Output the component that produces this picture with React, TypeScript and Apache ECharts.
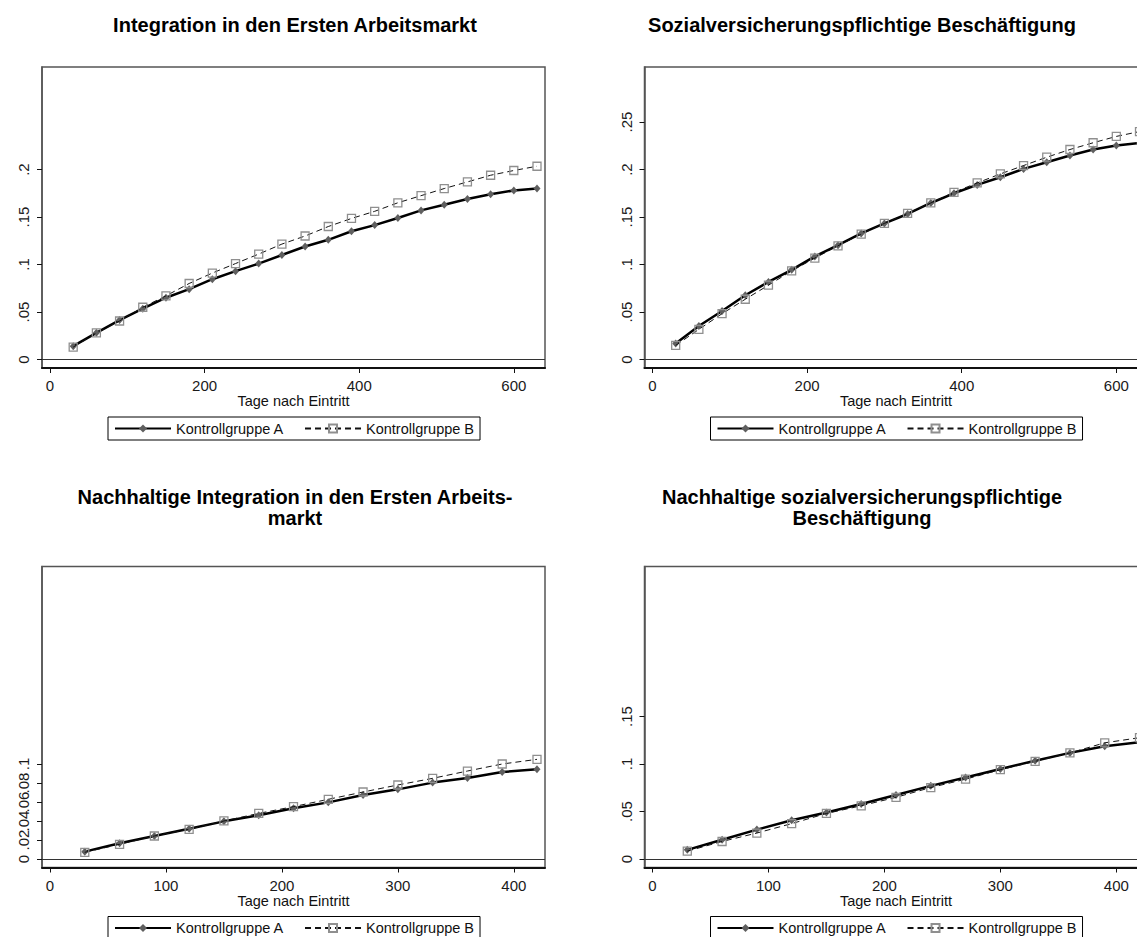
import React, { useEffect, useRef } from "react";
import * as echarts from "echarts";

// ---------- data ----------
const daysLong = [30, 60, 90, 120, 150, 180, 210, 240, 270, 300, 330, 360, 390, 420, 450, 480, 510, 540, 570, 600, 630];
const daysShort = [30, 60, 90, 120, 150, 180, 210, 240, 270, 300, 330, 360, 390, 420];

// Panel 1: Integration in den Ersten Arbeitsmarkt
const p1A = [0.014, 0.028, 0.0415, 0.0535, 0.065, 0.074, 0.0845, 0.093, 0.101, 0.110, 0.119, 0.126, 0.135, 0.1415, 0.149, 0.157, 0.163, 0.169, 0.174, 0.178, 0.180];
const p1B = [0.013, 0.028, 0.0405, 0.055, 0.067, 0.080, 0.091, 0.101, 0.111, 0.1215, 0.130, 0.140, 0.1485, 0.156, 0.165, 0.1725, 0.180, 0.187, 0.194, 0.199, 0.2035];
// Panel 2: Sozialversicherungspflichtige Beschäftigung
const p2A = [0.0169, 0.0352, 0.051, 0.0676, 0.0817, 0.0944, 0.1085, 0.1204, 0.1327, 0.1433, 0.1532, 0.1648, 0.175, 0.1838, 0.1919, 0.2007, 0.2077, 0.2148, 0.2211, 0.2254, 0.228];
const p2B = [0.0148, 0.0317, 0.0482, 0.0634, 0.0782, 0.0933, 0.1067, 0.1197, 0.132, 0.1433, 0.1539, 0.1648, 0.176, 0.1859, 0.1954, 0.2042, 0.213, 0.2211, 0.2282, 0.2349, 0.240];
// Panel 3: Nachhaltige Integration
const p3A = [0.0077, 0.0165, 0.0242, 0.0319, 0.0396, 0.046, 0.0533, 0.0596, 0.0674, 0.0733, 0.0804, 0.0853, 0.0916, 0.0944];
const p3B = [0.007, 0.0154, 0.0242, 0.0312, 0.040, 0.048, 0.0551, 0.0628, 0.0705, 0.0779, 0.0849, 0.0926, 0.100, 0.1049];
// Panel 4: Nachhaltige sozialversicherungspflichtige Beschäftigung
const p4A = [0.0096, 0.0202, 0.0309, 0.0408, 0.0489, 0.0578, 0.0674, 0.077, 0.0858, 0.0947, 0.1035, 0.1117, 0.1188, 0.123];
const p4B = [0.0082, 0.0184, 0.0273, 0.0372, 0.0479, 0.056, 0.0649, 0.0752, 0.084, 0.094, 0.1028, 0.1117, 0.1223, 0.1277];

const xTicksLong = [0, 200, 400, 600];
const xTicksShort = [0, 100, 200, 300, 400];
const yTicks1 = [0, 0.05, 0.1, 0.15, 0.2];
const yTicks2 = [0, 0.05, 0.1, 0.15, 0.2, 0.25];
const yTicks3 = [0, 0.02, 0.04, 0.06, 0.08, 0.1];
const yTicks4 = [0, 0.05, 0.1, 0.15];

const titles = [
  ["Integration in den Ersten Arbeitsmarkt"],
  ["Sozialversicherungspflichtige Beschäftigung"],
  ["Nachhaltige Integration in den Ersten Arbeits-", "markt"],
  ["Nachhaltige sozialversicherungspflichtige", "Beschäftigung"],
];
const nameA = "Kontrollgruppe A";
const nameB = "Kontrollgruppe B";
const xTitle = "Tage nach Eintritt";

const FONT = '"Liberation Sans", Arial, Helvetica, sans-serif';

export default function App() {
  const ref = useRef<HTMLDivElement>(null);
  useEffect(() => {
    if (!ref.current) return;
    const chart = echarts.init(ref.current, undefined, { renderer: "svg" });

    const panels = [
      { left: 42, top: 67, tx: 295, days: daysLong, A: p1A, B: p1B, xt: xTicksLong, yt: yTicks1, xmin: -10.35, xmax: 640.35 },
      { left: 644.5, top: 67, tx: 862, days: daysLong, A: p2A, B: p2B, xt: xTicksLong, yt: yTicks2, xmin: -10.35, xmax: 640.35 },
      { left: 42, top: 566.5, tx: 295, days: daysShort, A: p3A, B: p3B, xt: xTicksShort, yt: yTicks3, xmin: -6.9, xmax: 426.9 },
      { left: 644.5, top: 566.5, tx: 862, days: daysShort, A: p4A, B: p4B, xt: xTicksShort, yt: yTicks4, xmin: -6.9, xmax: 426.9 },
    ];
    const W = 503;
    const H = 301;

    const fmtY = (v: number) => (v === 0 ? "0" : String(+v.toFixed(3)).replace(/^0/, ""));

    const grid: any[] = [];
    const xAxis: any[] = [];
    const yAxis: any[] = [];
    const series: any[] = [];
    const legend: any[] = [];
    const graphic: any[] = [];

    panels.forEach((p, i) => {
      grid.push({
        left: p.left, top: p.top, width: W, height: H,
        show: true, borderColor: "#555", borderWidth: 1.5, backgroundColor: "#fff",
      });
      xAxis.push({
        type: "value", gridIndex: i, min: p.xmin, max: p.xmax,
        axisLine: { show: true, onZero: false, lineStyle: { color: "#111", width: 2 } },
        axisTick: { show: true, length: 5, customValues: p.xt, lineStyle: { color: "#111", width: 1 } },
        axisLabel: { customValues: p.xt, fontSize: 15, color: "#1a1a1a", fontFamily: FONT, margin: 10 },
        splitLine: { show: false },
        name: xTitle, nameLocation: "middle", nameGap: 22,
        nameTextStyle: { fontSize: 14.5, color: "#111", fontFamily: FONT },
      });
      yAxis.push({
        type: "value", gridIndex: i, min: -0.009, max: 0.308,
        axisLine: { show: true, onZero: false, lineStyle: { color: "#555", width: 1.5 } },
        axisTick: { show: true, length: 5, customValues: p.yt, lineStyle: { color: "#111", width: 1 } },
        axisLabel: { customValues: p.yt, rotate: 90, fontSize: 15, color: "#1a1a1a", fontFamily: FONT, margin: 11, formatter: fmtY },
        splitLine: { show: false },
      });
      series.push({
        name: nameA, type: "line", xAxisIndex: i, yAxisIndex: i,
        data: p.days.map((d, k) => [d, p.A[k]]),
        symbol: "diamond", symbolSize: [7, 8],
        itemStyle: { color: "#5f5f5f" },
        lineStyle: { color: "#000", width: 2.5 },
        z: 3,
        markLine: {
          silent: true, symbol: "none", label: { show: false },
          lineStyle: { color: "#333", width: 1, type: "solid" },
          data: [{ yAxis: 0 }],
        },
      });
      series.push({
        name: nameB, type: "line", xAxisIndex: i, yAxisIndex: i,
        data: p.days.map((d, k) => [d, p.B[k]]),
        symbol: "rect", symbolSize: 8,
        itemStyle: { color: "rgba(255,255,255,0)", borderColor: "#8f8f8f", borderWidth: 1.3 },
        lineStyle: { color: "#111", width: 1, type: [6, 4] },
        z: 4,
      });
      legend.push({
        data: [nameA, nameB], left: p.left + 66, top: p.top + 350,
        orient: "horizontal", selectedMode: false,
        itemWidth: 56, itemHeight: 10, itemGap: 20,
        padding: [4, 6], borderColor: "#000", borderWidth: 1, backgroundColor: "#fff",
        textStyle: { fontSize: 14.5, color: "#111", fontFamily: FONT },
      });
      const ty = i < 2 ? 25 : 497;
      titles[i].forEach((t, j) => {
        graphic.push({
          type: "text", x: p.tx, y: ty + j * 21,
          style: { text: t, fill: "#000", font: `bold 20px ${FONT}`, textAlign: "center", textVerticalAlign: "middle" },
        });
      });
    });

    chart.setOption({
      animation: false,
      backgroundColor: "#fff",
      grid, xAxis, yAxis, series, legend, graphic,
    });
    return () => chart.dispose();
  }, []);

  return (
    <div style={{ position: "fixed", left: 0, top: 0, width: 1137, height: 937, overflow: "hidden", background: "#fff" }}>
      <div ref={ref} style={{ width: 1170, height: 937 }} />
    </div>
  );
}
